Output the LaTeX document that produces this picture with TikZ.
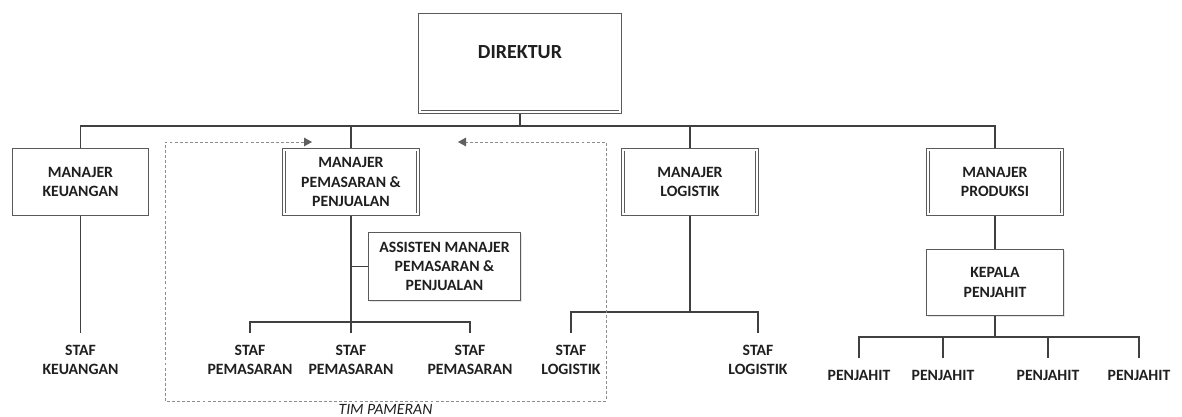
\documentclass[tikz,border=0pt]{standalone}
\usepackage{fontspec}
\setmainfont{Carlito}
\usepackage{tikz}
\usetikzlibrary{arrows.meta,positioning,shadows}
\definecolor{linec}{HTML}{404040}
\definecolor{boxc}{HTML}{5A5A5A}
\definecolor{txtc}{HTML}{1F1F1F}
\definecolor{dshc}{HTML}{8C8C8C}
\definecolor{tipc}{HTML}{606060}
\tikzset{
  mb/.style={rectangle,draw=boxc,line width=0.5pt,double=white,double distance=1.6pt,fill=white,outer sep=1.3pt,minimum width=100.2pt,minimum height=48.4pt,inner sep=2pt,align=center,text=txtc,font=\fontsize{11.8}{14.5}\selectfont\bfseries,drop shadow={shadow xshift=1.2pt,shadow yshift=-1.2pt,opacity=0.2}},
  db/.style={mb,minimum width=150.4pt,minimum height=73.1pt,text depth=17pt,font=\fontsize{15}{18}\selectfont\bfseries},
  sb/.style={rectangle,draw=boxc,line width=0.6pt,fill=white,inner sep=2pt,align=center,text=txtc,font=\fontsize{11.8}{14.5}\selectfont\bfseries,drop shadow={shadow xshift=1.2pt,shadow yshift=-1.2pt,opacity=0.2}},
  lb/.style={align=center,inner xsep=1pt,inner ysep=9pt,text=txtc,font=\fontsize{11.8}{14.5}\selectfont\bfseries},
  con/.style={draw=linec,line width=1.4pt},
  dsh/.style={draw=dshc,line width=0.6pt,dash pattern=on 2.2pt off 1.6pt,{Triangle[length=6pt,width=6.5pt,color=tipc]}-{Triangle[length=6pt,width=6.5pt,color=tipc]}},
}

\begin{document}
\begin{tikzpicture}[x=0.75pt,y=-0.75pt]
  \useasboundingbox (0,0) rectangle (1182,417);
  % direktur and managers
  \node[db] (dir) at (520,63.5) {DIREKTUR};
  \node[mb] (mk) at (80.5,182) {MANAJER\\KEUANGAN};
  \node[mb] (mpp) at (351,182) {MANAJER\\PEMASARAN \&\\PENJUALAN};
  \node[mb] (ml) at (690,182) {MANAJER\\LOGISTIK};
  \node[mb] (mpr) at (995,182) {MANAJER\\PRODUKSI};
  \coordinate (tb) at (520,126);
  \draw[con] (dir.south) -- (tb);
  \foreach \m in {mk,mpp,ml,mpr} \draw[con] (\m.north) |- (tb);

  % keuangan
  \node[lb,below=87.75pt of mk] (sk) {STAF\\KEUANGAN};
  \draw[con] (mk.south) -- (sk.north);

  % pemasaran & penjualan
  \node[sb,minimum width=114.2pt,minimum height=51.1pt] (asis) at (444.5,266.5) {ASSISTEN MANAJER\\PEMASARAN \&\\PENJUALAN};
  \node[lb,below=87.75pt of mpp,xshift=-75.75pt] (sp1) {STAF\\PEMASARAN};
  \node[lb,below=87.75pt of mpp] (sp2) {STAF\\PEMASARAN};
  \node[lb,below=87.75pt of mpp,xshift=89.25pt] (sp3) {STAF\\PEMASARAN};
  \draw[con] (mpp.south) -- (sp2.north);
  \draw[con] (asis.west) -- (asis.west -| mpp.south);
  \draw[con] (sp1.north) -- ++(0,-11) -| (sp3.north);

  % logistik
  \node[lb,below=87.75pt of ml,xshift=-89.25pt] (sl1) {STAF\\LOGISTIK};
  \node[lb,below=87.75pt of ml,xshift=51pt] (sl2) {STAF\\LOGISTIK};
  \draw[con] (sl1.north) -- ++(0,-21) coordinate (lbar) -| (sl2.north);
  \draw[con] (ml.south) -- (ml.south |- lbar);

  % produksi
  \node[sb,below=24.75pt of mpr,minimum width=102.9pt,minimum height=49.7pt] (kp) {KEPALA\\PENJAHIT};
  \draw[con] (mpr.south) -- (kp.north);
  \node[lb,below=31.5pt of kp,xshift=-102pt] (pj1) {PENJAHIT};
  \node[lb,below=31.5pt of kp,xshift=-39pt] (pj2) {PENJAHIT};
  \node[lb,below=31.5pt of kp,xshift=39.75pt] (pj3) {PENJAHIT};
  \node[lb,below=31.5pt of kp,xshift=108pt] (pj4) {PENJAHIT};
  \draw[con] (pj1.north) -- ++(0,-21) coordinate (pbar) -| (pj4.north);
  \draw[con] (kp.south) -- (kp.south |- pbar);
  \foreach \p in {pj2,pj3} \draw[con] (\p.north) -- (\p.north |- pbar);

  % tim pameran
  \coordinate (a1) at (312,142);
  \coordinate (a2) at (458,142);
  \coordinate (ftl) at (165,142);
  \coordinate (fbr) at (606,401);
  \draw[dsh] (a1) -- (ftl) |- (fbr) |- (a2);
  \node[text=txtc,font=\fontsize{11.8}{14.5}\selectfont\itshape,inner sep=0pt] (tim) at (385.5,409) {TIM PAMERAN};
\end{tikzpicture}
\end{document}
